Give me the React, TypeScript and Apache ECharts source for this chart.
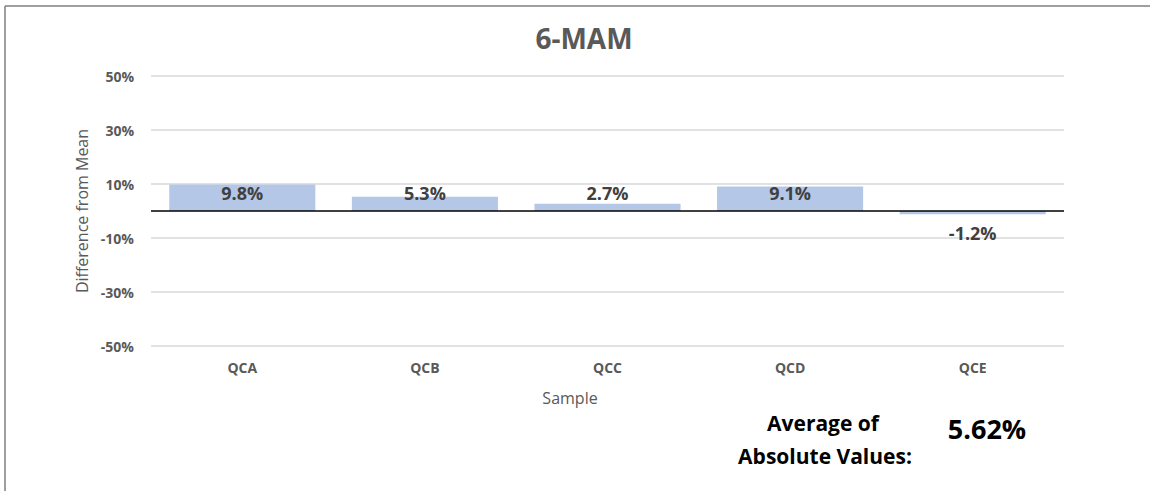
import React, { useEffect, useRef } from "react";
import * as echarts from "echarts";

const categories = ["QCA", "QCB", "QCC", "QCD", "QCE"];
const differences = [9.8, 5.3, 2.7, 9.1, -1.2];
const yTicks = { min: -50, max: 50, interval: 20 };
const titleText = "6-MAM";
const xName = "Sample";
const yName = "Difference from Mean";
const averageLabel = ["Average of", "Absolute Values:"];
const averageValue = "5.62%";

const FONT = "'Open Sans', 'DejaVu Sans', sans-serif";

export default function App() {
  const ref = useRef<HTMLDivElement>(null);
  useEffect(() => {
    document.body.style.margin = "0";
    if (!ref.current) return;
    const chart = echarts.init(ref.current, undefined, { renderer: "svg" });
    const data = differences.map((v) => ({
      value: v,
      label:
        v >= 0
          ? { position: "insideBottom", distance: 9 }
          : { position: "bottom", distance: 10 },
    }));
    chart.setOption({
      animation: false,
      backgroundColor: "#ffffff",
      grid: { left: 151, right: 86, top: 76, bottom: 145, containLabel: false },
      xAxis: {
        type: "category",
        data: categories,
        axisLine: { show: false, onZero: false },
        axisTick: { show: false },
        axisLabel: {
          margin: 14,
          color: "#595959",
          fontFamily: FONT,
          fontWeight: "bold",
          fontSize: 14,
        },
      },
      yAxis: {
        type: "value",
        min: yTicks.min,
        max: yTicks.max,
        interval: yTicks.interval,
        axisLine: { show: false },
        axisTick: { show: false },
        splitLine: { lineStyle: { color: "#d9d9d9", width: 1.5 } },
        axisLabel: {
          margin: 17,
          formatter: "{value}%",
          color: "#595959",
          fontFamily: FONT,
          fontWeight: "bold",
          fontSize: 14,
        },
        name: yName,
        nameLocation: "middle",
        nameGap: 60,
        nameRotate: 90,
        nameTextStyle: { color: "#595959", fontFamily: FONT, fontSize: 16 },
      },
      series: [
        {
          type: "bar",
          data,
          barCategoryGap: "20%",
          itemStyle: { color: "#b4c7e7" },
          label: {
            show: true,
            formatter: (p: any) => p.value + "%",
            color: "#404040",
            fontFamily: FONT,
            fontWeight: "bold",
            fontSize: 18,
          },
          markLine: {
            silent: true,
            symbol: "none",
            label: { show: false },
            lineStyle: { color: "#000000", type: "solid", width: 1.5 },
            data: [{ yAxis: 0 }],
          },
        },
      ],
      graphic: [
        {
          type: "line",
          shape: { x1: 5, y1: 6, x2: 1150, y2: 6 },
          style: { stroke: "#7f7f7f", lineWidth: 1.5 },
        },
        {
          type: "line",
          shape: { x1: 5, y1: 6, x2: 5, y2: 491 },
          style: { stroke: "#7f7f7f", lineWidth: 1.5 },
        },
        {
          type: "text",
          x: 584,
          y: 38,
          style: {
            text: titleText,
            fill: "#595959",
            font: `bold 28px ${FONT}`,
            textAlign: "center",
            textVerticalAlign: "middle",
          },
        },
        {
          type: "text",
          x: 570,
          y: 398,
          style: {
            text: xName,
            fill: "#595959",
            font: `16px ${FONT}`,
            textAlign: "center",
            textVerticalAlign: "middle",
          },
        },
        {
          type: "text",
          x: 823,
          y: 423,
          style: {
            text: averageLabel[0],
            fill: "#000000",
            font: `bold 21px ${FONT}`,
            textAlign: "center",
            textVerticalAlign: "middle",
          },
        },
        {
          type: "text",
          x: 825,
          y: 456,
          style: {
            text: averageLabel[1],
            fill: "#000000",
            font: `bold 21px ${FONT}`,
            textAlign: "center",
            textVerticalAlign: "middle",
          },
        },
        {
          type: "text",
          x: 987,
          y: 428,
          style: {
            text: averageValue,
            fill: "#000000",
            font: `bold 27px ${FONT}`,
            textAlign: "center",
            textVerticalAlign: "middle",
          },
        },
      ],
    });
    return () => chart.dispose();
  }, []);
  return <div ref={ref} style={{ width: 1150, height: 491 }} />;
}
